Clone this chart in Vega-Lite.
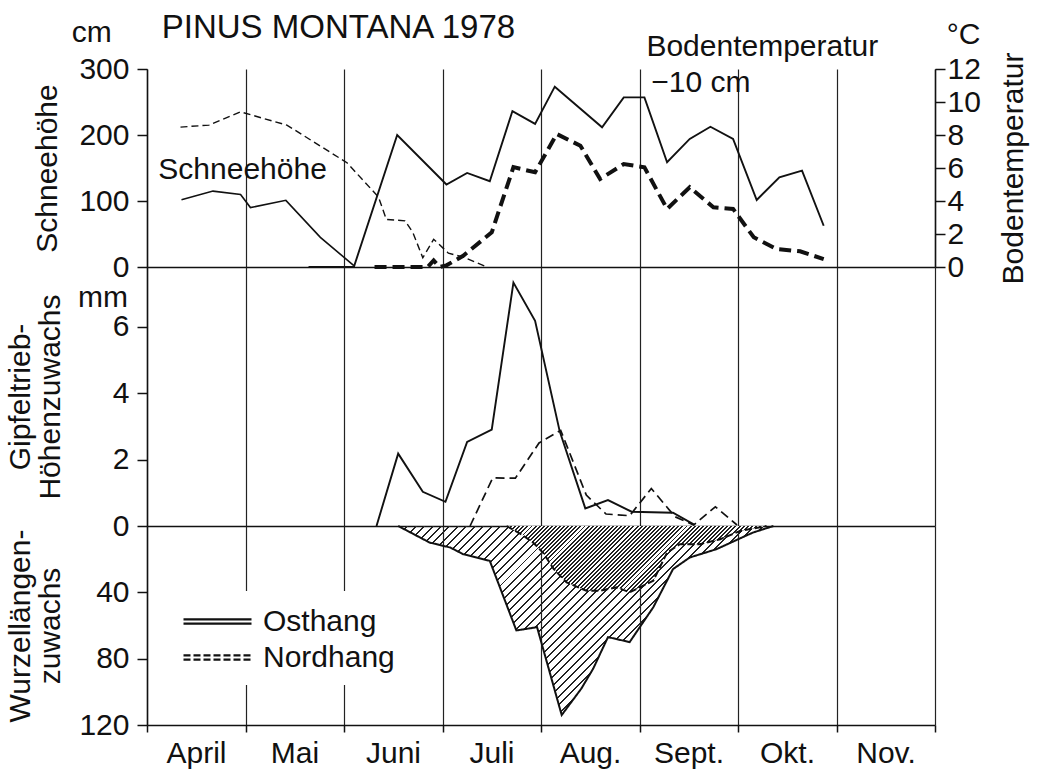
{
 "$schema":"https://vega.github.io/schema/vega-lite/v6.json",
 "background":"white",
 "padding":{"left":5,"top":12,"right":5,"bottom":2},
 "spacing":0,
 "bounds":"flush",
 "config":{
  "font":"Liberation Sans",
  "view":{"stroke":null},
  "axis":{"domainColor":"#111","tickColor":"#111","gridColor":"#222","gridWidth":1.2,"gridOpacity":1,"domainWidth":1.5,"tickWidth":1.5,"labelColor":"#111","titleColor":"#111","labelFont":"Liberation Sans","titleFont":"Liberation Sans","labelFontSize":30,"titleFontSize":30,"titleFontWeight":"normal","labelOverlap":false,"labelSeparation":0},
  "axisY":{"grid":false},
  "text":{"font":"Liberation Sans","fontSize":30,"color":"#111"},
  "line":{"color":"#111"}
 },
 "resolve":{"scale":{"strokeDash":"independent"},"legend":{"strokeDash":"independent"}},
 "datasets":{
  "schnee":[
   {"t":0.35,"Hang":"Osthang","cm":102},{"t":0.67,"Hang":"Osthang","cm":115},{"t":0.95,"Hang":"Osthang","cm":110},{"t":1.05,"Hang":"Osthang","cm":90},{"t":1.41,"Hang":"Osthang","cm":101},{"t":1.76,"Hang":"Osthang","cm":45},{"t":2.1,"Hang":"Osthang","cm":2},
   {"t":0.34,"Hang":"Nordhang","cm":212},{"t":0.63,"Hang":"Nordhang","cm":215},{"t":0.95,"Hang":"Nordhang","cm":235},{"t":1.42,"Hang":"Nordhang","cm":215},{"t":2.03,"Hang":"Nordhang","cm":158},{"t":2.35,"Hang":"Nordhang","cm":106},{"t":2.43,"Hang":"Nordhang","cm":72},{"t":2.62,"Hang":"Nordhang","cm":70},{"t":2.7,"Hang":"Nordhang","cm":52},{"t":2.8,"Hang":"Nordhang","cm":14},{"t":2.91,"Hang":"Nordhang","cm":42},{"t":3.06,"Hang":"Nordhang","cm":21},{"t":3.21,"Hang":"Nordhang","cm":15},{"t":3.45,"Hang":"Nordhang","cm":0}
  ],
  "temp":[
   {"t":1.64,"Hang":"Osthang","C":0},{"t":2.1,"Hang":"Osthang","C":0},{"t":2.54,"Hang":"Osthang","C":8.0},{"t":3.04,"Hang":"Osthang","C":5.0},{"t":3.25,"Hang":"Osthang","C":5.7},{"t":3.48,"Hang":"Osthang","C":5.2},{"t":3.71,"Hang":"Osthang","C":9.45},{"t":3.94,"Hang":"Osthang","C":8.67},{"t":4.14,"Hang":"Osthang","C":10.93},{"t":4.62,"Hang":"Osthang","C":8.47},{"t":4.84,"Hang":"Osthang","C":10.28},{"t":5.05,"Hang":"Osthang","C":10.28},{"t":5.28,"Hang":"Osthang","C":6.35},{"t":5.51,"Hang":"Osthang","C":7.76},{"t":5.72,"Hang":"Osthang","C":8.5},{"t":5.95,"Hang":"Osthang","C":7.76},{"t":6.19,"Hang":"Osthang","C":4.06},{"t":6.42,"Hang":"Osthang","C":5.44},{"t":6.65,"Hang":"Osthang","C":5.84},{"t":6.87,"Hang":"Osthang","C":2.5},
   {"t":2.31,"Hang":"Nordhang","C":0},{"t":2.85,"Hang":"Nordhang","C":0},{"t":2.91,"Hang":"Nordhang","C":0.4},{"t":2.97,"Hang":"Nordhang","C":0},{"t":3.04,"Hang":"Nordhang","C":0.1},{"t":3.21,"Hang":"Nordhang","C":0.68},{"t":3.5,"Hang":"Nordhang","C":2.1},{"t":3.72,"Hang":"Nordhang","C":6.05},{"t":3.94,"Hang":"Nordhang","C":5.74},{"t":4.16,"Hang":"Nordhang","C":8.06},{"t":4.4,"Hang":"Nordhang","C":7.35},{"t":4.6,"Hang":"Nordhang","C":5.33},{"t":4.84,"Hang":"Nordhang","C":6.24},{"t":5.05,"Hang":"Nordhang","C":6.04},{"t":5.28,"Hang":"Nordhang","C":3.52},{"t":5.51,"Hang":"Nordhang","C":4.83},{"t":5.75,"Hang":"Nordhang","C":3.62},{"t":5.95,"Hang":"Nordhang","C":3.52},{"t":6.16,"Hang":"Nordhang","C":1.8},{"t":6.39,"Hang":"Nordhang","C":1.09},{"t":6.63,"Hang":"Nordhang","C":0.95},{"t":6.87,"Hang":"Nordhang","C":0.48}
  ],
  "gipfel":[
   {"t":2.33,"Hang":"Osthang","mm":0},{"t":2.55,"Hang":"Osthang","mm":2.18},{"t":2.8,"Hang":"Osthang","mm":1.03},{"t":3.03,"Hang":"Osthang","mm":0.73},{"t":3.25,"Hang":"Osthang","mm":2.53},{"t":3.5,"Hang":"Osthang","mm":2.9},{"t":3.72,"Hang":"Osthang","mm":7.33},{"t":3.94,"Hang":"Osthang","mm":6.18},{"t":4.19,"Hang":"Osthang","mm":2.85},{"t":4.45,"Hang":"Osthang","mm":0.53},{"t":4.68,"Hang":"Osthang","mm":0.78},{"t":4.92,"Hang":"Osthang","mm":0.43},{"t":5.34,"Hang":"Osthang","mm":0.4},{"t":5.55,"Hang":"Osthang","mm":0.05},
   {"t":3.28,"Hang":"Nordhang","mm":0},{"t":3.51,"Hang":"Nordhang","mm":1.45},{"t":3.74,"Hang":"Nordhang","mm":1.44},{"t":3.98,"Hang":"Nordhang","mm":2.5},{"t":4.2,"Hang":"Nordhang","mm":2.88},{"t":4.46,"Hang":"Nordhang","mm":0.93},{"t":4.66,"Hang":"Nordhang","mm":0.36},{"t":4.9,"Hang":"Nordhang","mm":0.31},{"t":5.12,"Hang":"Nordhang","mm":1.13},{"t":5.36,"Hang":"Nordhang","mm":0.28},{"t":5.55,"Hang":"Nordhang","mm":0.03},{"t":5.77,"Hang":"Nordhang","mm":0.58},{"t":5.99,"Hang":"Nordhang","mm":0.03}
  ],
  "wurzel":[
   {"t":2.55,"Hang":"Osthang","mm":0},{"t":2.87,"Hang":"Osthang","mm":10},{"t":3.08,"Hang":"Osthang","mm":13},{"t":3.21,"Hang":"Osthang","mm":17},{"t":3.48,"Hang":"Osthang","mm":21},{"t":3.75,"Hang":"Osthang","mm":63},{"t":3.96,"Hang":"Osthang","mm":61},{"t":4.21,"Hang":"Osthang","mm":114},{"t":4.41,"Hang":"Osthang","mm":98},{"t":4.53,"Hang":"Osthang","mm":86},{"t":4.68,"Hang":"Osthang","mm":67},{"t":4.9,"Hang":"Osthang","mm":70},{"t":5.14,"Hang":"Osthang","mm":49},{"t":5.34,"Hang":"Osthang","mm":26},{"t":5.51,"Hang":"Osthang","mm":19},{"t":5.78,"Hang":"Osthang","mm":14},{"t":6.15,"Hang":"Osthang","mm":4},{"t":6.36,"Hang":"Osthang","mm":0},
   {"t":3.65,"Hang":"Nordhang","mm":0},{"t":3.8,"Hang":"Nordhang","mm":5},{"t":3.92,"Hang":"Nordhang","mm":10},{"t":4.02,"Hang":"Nordhang","mm":16},{"t":4.13,"Hang":"Nordhang","mm":26},{"t":4.26,"Hang":"Nordhang","mm":34},{"t":4.46,"Hang":"Nordhang","mm":39},{"t":4.6,"Hang":"Nordhang","mm":39},{"t":4.77,"Hang":"Nordhang","mm":37},{"t":4.9,"Hang":"Nordhang","mm":40},{"t":5.14,"Hang":"Nordhang","mm":33},{"t":5.28,"Hang":"Nordhang","mm":16},{"t":5.41,"Hang":"Nordhang","mm":11},{"t":5.61,"Hang":"Nordhang","mm":11},{"t":5.82,"Hang":"Nordhang","mm":8},{"t":6.02,"Hang":"Nordhang","mm":3},{"t":6.29,"Hang":"Nordhang","mm":0}
  ],
  "notes":[
   {"t":0.115,"cm":133.3,"label":"Schneehöhe"},
   {"t":5.07,"cm":319.2,"label":"Bodentemperatur"},
   {"t":5.12,"cm":264.7,"label":"−10 cm"},
   {"t":-0.765,"cm":340.5,"label":"cm"},
   {"t":8.12,"cm":337.9,"label":"°C"}
  ]
 },
 "vconcat":[
  {
   "width":788,"height":198,
   "resolve":{"scale":{"y":"independent"}},
   "layer":[
    {"layer":[
     {"data":{"name":"schnee"},"transform":[{"filter":"datum.Hang==='Osthang'"}],"mark":{"type":"line","strokeWidth":1.6,"color":"#111"},
      "encoding":{"x":{"field":"t","type":"quantitative","title":null,"scale":{"domain":[0,8],"nice":false},"axis":{"values":[0,1,2,3,4,5,6,7,8],"grid":true,"labels":false,"ticks":false,"domain":true,"title":null}},
       "y":{"field":"cm","type":"quantitative","title":"Schneehöhe","scale":{"domain":[0,300],"nice":false},"axis":{"values":[0,100,200,300],"title":"Schneehöhe","tickSize":10,"labelPadding":8,"titlePadding":16,"labelOverlap":false}}}},
     {"data":{"name":"schnee"},"transform":[{"filter":"datum.Hang==='Nordhang'"}],"mark":{"type":"line","strokeWidth":1.4,"strokeDash":[7,4],"color":"#111"},
      "encoding":{"x":{"field":"t","type":"quantitative","title":null},"y":{"field":"cm","type":"quantitative","title":"Schneehöhe","scale":{"domain":[0,300],"nice":false}}}},
     {"data":{"name":"notes"},"mark":{"type":"text","align":"left","baseline":"alphabetic"},
      "encoding":{"x":{"field":"t","type":"quantitative","title":null},"y":{"field":"cm","type":"quantitative","title":"Schneehöhe","scale":{"domain":[0,300],"nice":false}},"text":{"field":"label"}}},
     {"data":{"values":[{"t":0.15,"cm":346.5,"label":"PINUS MONTANA 1978"}]},"mark":{"type":"text","align":"left","baseline":"alphabetic","fontSize":33},
      "encoding":{"x":{"field":"t","type":"quantitative","title":null},"y":{"field":"cm","type":"quantitative","title":"Schneehöhe","scale":{"domain":[0,300],"nice":false}},"text":{"field":"label"}}}
    ]},
    {"layer":[
     {"data":{"name":"temp"},"transform":[{"filter":"datum.Hang==='Osthang'"}],"mark":{"type":"line","strokeWidth":1.9,"color":"#111"},
      "encoding":{"x":{"field":"t","type":"quantitative","title":null},"y":{"field":"C","type":"quantitative","title":"Bodentemperatur","scale":{"domain":[0,12],"nice":false},"axis":{"orient":"right","values":[0,2,4,6,8,10,12],"labelOverlap":false,"labelSeparation":0,"labelBound":false,"title":"Bodentemperatur","tickSize":10,"labelPadding":2,"titlePadding":18,"titleAngle":270,"titleBaseline":"top"}}}},
     {"data":{"name":"temp"},"transform":[{"filter":"datum.Hang==='Nordhang'"}],"mark":{"type":"line","strokeWidth":4,"strokeDash":[12,6],"color":"#111"},
      "encoding":{"x":{"field":"t","type":"quantitative","title":null},"y":{"field":"C","type":"quantitative","title":"Bodentemperatur","scale":{"domain":[0,12],"nice":false},"axis":{"orient":"right","values":[0,2,4,6,8,10,12],"labelOverlap":false,"labelSeparation":0,"labelBound":false,"title":"Bodentemperatur","tickSize":10,"labelPadding":2,"titlePadding":18,"titleAngle":270,"titleBaseline":"top"}}}}
    ]}
   ]
  },
  {
   "width":788,"height":259,
   "layer":[
    {"data":{"name":"gipfel"},"transform":[{"filter":"datum.Hang==='Osthang'"}],"mark":{"type":"line","strokeWidth":1.9,"color":"#111"},
     "encoding":{"x":{"field":"t","type":"quantitative","title":null,"scale":{"domain":[0,8],"nice":false},"axis":{"values":[0,1,2,3,4,5,6,7,8],"grid":true,"labels":false,"ticks":false,"domain":true,"title":null}},
      "y":{"field":"mm","type":"quantitative","title":["Gipfeltrieb-","Höhenzuwachs"],"scale":{"domain":[0,7.8],"nice":false},"axis":{"values":[0,2,4,6],"labelOverlap":false,"title":["Gipfeltrieb-","Höhenzuwachs"],"titleLineHeight":30,"tickSize":10,"labelPadding":8,"titlePadding":47}}}},
    {"data":{"name":"gipfel"},"transform":[{"filter":"datum.Hang==='Nordhang'"}],"mark":{"type":"line","strokeWidth":1.7,"strokeDash":[9,5],"color":"#111"},
     "encoding":{"x":{"field":"t","type":"quantitative","title":null},"y":{"field":"mm","type":"quantitative","title":["Gipfeltrieb-","Höhenzuwachs"],"scale":{"domain":[0,7.8],"nice":false}}}},
    {"data":{"values":[{"t":-0.7,"mm":6.6,"label":"mm"}]},"mark":{"type":"text","align":"left","baseline":"alphabetic"},
     "encoding":{"x":{"field":"t","type":"quantitative","title":null},"y":{"field":"mm","type":"quantitative","title":["Gipfeltrieb-","Höhenzuwachs"],"scale":{"domain":[0,7.8],"nice":false}},"text":{"field":"label"}}}
   ]
  },
  {
   "width":788,"height":199,
   "layer":[
    {"data":{"name":"wurzel"},"transform":[{"filter":"datum.Hang==='Osthang'"}],
     "mark":{"type":"area","stroke":null,"fill":{"gradient":"linear","x1":0,"y1":0,"x2":1.1994,"y2":0.6041,"stops":[
{"offset":0,"color":"#222"},{"offset":0.0035,"color":"#222"},{"offset":0.0035,"color":"#fff0"},{"offset":0.015,"color":"#fff0"},
{"offset":0.015,"color":"#222"},{"offset":0.0185,"color":"#222"},{"offset":0.0185,"color":"#fff0"},{"offset":0.03,"color":"#fff0"},
{"offset":0.03,"color":"#222"},{"offset":0.0335,"color":"#222"},{"offset":0.0335,"color":"#fff0"},{"offset":0.045,"color":"#fff0"},
{"offset":0.045,"color":"#222"},{"offset":0.0485,"color":"#222"},{"offset":0.0485,"color":"#fff0"},{"offset":0.06,"color":"#fff0"},
{"offset":0.06,"color":"#222"},{"offset":0.0635,"color":"#222"},{"offset":0.0635,"color":"#fff0"},{"offset":0.075,"color":"#fff0"},
{"offset":0.075,"color":"#222"},{"offset":0.0785,"color":"#222"},{"offset":0.0785,"color":"#fff0"},{"offset":0.09,"color":"#fff0"},
{"offset":0.09,"color":"#222"},{"offset":0.0935,"color":"#222"},{"offset":0.0935,"color":"#fff0"},{"offset":0.105,"color":"#fff0"},
{"offset":0.105,"color":"#222"},{"offset":0.1085,"color":"#222"},{"offset":0.1085,"color":"#fff0"},{"offset":0.12,"color":"#fff0"},
{"offset":0.12,"color":"#222"},{"offset":0.1235,"color":"#222"},{"offset":0.1235,"color":"#fff0"},{"offset":0.135,"color":"#fff0"},
{"offset":0.135,"color":"#222"},{"offset":0.1385,"color":"#222"},{"offset":0.1385,"color":"#fff0"},{"offset":0.15,"color":"#fff0"},
{"offset":0.15,"color":"#222"},{"offset":0.1535,"color":"#222"},{"offset":0.1535,"color":"#fff0"},{"offset":0.165,"color":"#fff0"},
{"offset":0.165,"color":"#222"},{"offset":0.1685,"color":"#222"},{"offset":0.1685,"color":"#fff0"},{"offset":0.18,"color":"#fff0"},
{"offset":0.18,"color":"#222"},{"offset":0.1835,"color":"#222"},{"offset":0.1835,"color":"#fff0"},{"offset":0.195,"color":"#fff0"},
{"offset":0.195,"color":"#222"},{"offset":0.1985,"color":"#222"},{"offset":0.1985,"color":"#fff0"},{"offset":0.21,"color":"#fff0"},
{"offset":0.21,"color":"#222"},{"offset":0.2135,"color":"#222"},{"offset":0.2135,"color":"#fff0"},{"offset":0.225,"color":"#fff0"},
{"offset":0.225,"color":"#222"},{"offset":0.2285,"color":"#222"},{"offset":0.2285,"color":"#fff0"},{"offset":0.24,"color":"#fff0"},
{"offset":0.24,"color":"#222"},{"offset":0.2435,"color":"#222"},{"offset":0.2435,"color":"#fff0"},{"offset":0.255,"color":"#fff0"},
{"offset":0.255,"color":"#222"},{"offset":0.2585,"color":"#222"},{"offset":0.2585,"color":"#fff0"},{"offset":0.27,"color":"#fff0"},
{"offset":0.27,"color":"#222"},{"offset":0.2735,"color":"#222"},{"offset":0.2735,"color":"#fff0"},{"offset":0.285,"color":"#fff0"},
{"offset":0.285,"color":"#222"},{"offset":0.2885,"color":"#222"},{"offset":0.2885,"color":"#fff0"},{"offset":0.3,"color":"#fff0"},
{"offset":0.3,"color":"#222"},{"offset":0.3035,"color":"#222"},{"offset":0.3035,"color":"#fff0"},{"offset":0.315,"color":"#fff0"},
{"offset":0.315,"color":"#222"},{"offset":0.3185,"color":"#222"},{"offset":0.3185,"color":"#fff0"},{"offset":0.33,"color":"#fff0"},
{"offset":0.33,"color":"#222"},{"offset":0.3335,"color":"#222"},{"offset":0.3335,"color":"#fff0"},{"offset":0.345,"color":"#fff0"},
{"offset":0.345,"color":"#222"},{"offset":0.3485,"color":"#222"},{"offset":0.3485,"color":"#fff0"},{"offset":0.36,"color":"#fff0"},
{"offset":0.36,"color":"#222"},{"offset":0.3635,"color":"#222"},{"offset":0.3635,"color":"#fff0"},{"offset":0.375,"color":"#fff0"},
{"offset":0.375,"color":"#222"},{"offset":0.3785,"color":"#222"},{"offset":0.3785,"color":"#fff0"},{"offset":0.39,"color":"#fff0"},
{"offset":0.39,"color":"#222"},{"offset":0.3935,"color":"#222"},{"offset":0.3935,"color":"#fff0"},{"offset":0.405,"color":"#fff0"},
{"offset":0.405,"color":"#222"},{"offset":0.4085,"color":"#222"},{"offset":0.4085,"color":"#fff0"},{"offset":0.42,"color":"#fff0"},
{"offset":0.42,"color":"#222"},{"offset":0.4235,"color":"#222"},{"offset":0.4235,"color":"#fff0"},{"offset":0.435,"color":"#fff0"},
{"offset":0.435,"color":"#222"},{"offset":0.4385,"color":"#222"},{"offset":0.4385,"color":"#fff0"},{"offset":0.45,"color":"#fff0"},
{"offset":0.45,"color":"#222"},{"offset":0.4535,"color":"#222"},{"offset":0.4535,"color":"#fff0"},{"offset":0.465,"color":"#fff0"},
{"offset":0.465,"color":"#222"},{"offset":0.4685,"color":"#222"},{"offset":0.4685,"color":"#fff0"},{"offset":0.48,"color":"#fff0"},
{"offset":0.48,"color":"#222"},{"offset":0.4835,"color":"#222"},{"offset":0.4835,"color":"#fff0"},{"offset":0.495,"color":"#fff0"},
{"offset":0.495,"color":"#222"},{"offset":0.4985,"color":"#222"},{"offset":0.4985,"color":"#fff0"},{"offset":0.51,"color":"#fff0"},
{"offset":0.51,"color":"#222"},{"offset":0.5135,"color":"#222"},{"offset":0.5135,"color":"#fff0"},{"offset":0.525,"color":"#fff0"},
{"offset":0.525,"color":"#222"},{"offset":0.5285,"color":"#222"},{"offset":0.5285,"color":"#fff0"},{"offset":0.54,"color":"#fff0"},
{"offset":0.54,"color":"#222"},{"offset":0.5435,"color":"#222"},{"offset":0.5435,"color":"#fff0"},{"offset":0.555,"color":"#fff0"},
{"offset":0.555,"color":"#222"},{"offset":0.5585,"color":"#222"},{"offset":0.5585,"color":"#fff0"},{"offset":0.57,"color":"#fff0"},
{"offset":0.57,"color":"#222"},{"offset":0.5735,"color":"#222"},{"offset":0.5735,"color":"#fff0"},{"offset":0.585,"color":"#fff0"},
{"offset":0.585,"color":"#222"},{"offset":0.5885,"color":"#222"},{"offset":0.5885,"color":"#fff0"},{"offset":0.6,"color":"#fff0"},
{"offset":0.6,"color":"#222"},{"offset":0.6035,"color":"#222"},{"offset":0.6035,"color":"#fff0"},{"offset":0.615,"color":"#fff0"},
{"offset":0.615,"color":"#222"},{"offset":0.6185,"color":"#222"},{"offset":0.6185,"color":"#fff0"},{"offset":0.63,"color":"#fff0"},
{"offset":0.63,"color":"#222"},{"offset":0.6335,"color":"#222"},{"offset":0.6335,"color":"#fff0"},{"offset":0.645,"color":"#fff0"},
{"offset":0.645,"color":"#222"},{"offset":0.6485,"color":"#222"},{"offset":0.6485,"color":"#fff0"},{"offset":0.66,"color":"#fff0"},
{"offset":0.66,"color":"#222"},{"offset":0.6635,"color":"#222"},{"offset":0.6635,"color":"#fff0"},{"offset":0.675,"color":"#fff0"},
{"offset":0.675,"color":"#222"},{"offset":0.6785,"color":"#222"},{"offset":0.6785,"color":"#fff0"},{"offset":0.69,"color":"#fff0"},
{"offset":0.69,"color":"#222"},{"offset":0.6935,"color":"#222"},{"offset":0.6935,"color":"#fff0"},{"offset":0.705,"color":"#fff0"},
{"offset":0.705,"color":"#222"},{"offset":0.7085,"color":"#222"},{"offset":0.7085,"color":"#fff0"},{"offset":0.72,"color":"#fff0"},
{"offset":0.72,"color":"#222"},{"offset":0.7235,"color":"#222"},{"offset":0.7235,"color":"#fff0"},{"offset":0.735,"color":"#fff0"},
{"offset":0.735,"color":"#222"},{"offset":0.7385,"color":"#222"},{"offset":0.7385,"color":"#fff0"},{"offset":0.75,"color":"#fff0"},
{"offset":0.75,"color":"#222"},{"offset":0.7535,"color":"#222"},{"offset":0.7535,"color":"#fff0"},{"offset":0.765,"color":"#fff0"},
{"offset":0.765,"color":"#222"},{"offset":0.7685,"color":"#222"},{"offset":0.7685,"color":"#fff0"},{"offset":0.78,"color":"#fff0"},
{"offset":0.78,"color":"#222"},{"offset":0.7835,"color":"#222"},{"offset":0.7835,"color":"#fff0"},{"offset":0.795,"color":"#fff0"},
{"offset":0.795,"color":"#222"},{"offset":0.7985,"color":"#222"},{"offset":0.7985,"color":"#fff0"},{"offset":0.81,"color":"#fff0"},
{"offset":0.81,"color":"#222"},{"offset":0.8135,"color":"#222"},{"offset":0.8135,"color":"#fff0"},{"offset":0.825,"color":"#fff0"},
{"offset":0.825,"color":"#222"},{"offset":0.8285,"color":"#222"},{"offset":0.8285,"color":"#fff0"},{"offset":0.84,"color":"#fff0"},
{"offset":0.84,"color":"#222"},{"offset":0.8435,"color":"#222"},{"offset":0.8435,"color":"#fff0"},{"offset":0.855,"color":"#fff0"},
{"offset":0.855,"color":"#222"},{"offset":0.8585,"color":"#222"},{"offset":0.8585,"color":"#fff0"},{"offset":0.87,"color":"#fff0"},
{"offset":0.87,"color":"#222"},{"offset":0.8735,"color":"#222"},{"offset":0.8735,"color":"#fff0"},{"offset":0.885,"color":"#fff0"},
{"offset":0.885,"color":"#222"},{"offset":0.8885,"color":"#222"},{"offset":0.8885,"color":"#fff0"},{"offset":0.9,"color":"#fff0"},
{"offset":0.9,"color":"#222"},{"offset":0.9035,"color":"#222"},{"offset":0.9035,"color":"#fff0"},{"offset":0.915,"color":"#fff0"},
{"offset":0.915,"color":"#222"},{"offset":0.9185,"color":"#222"},{"offset":0.9185,"color":"#fff0"},{"offset":0.93,"color":"#fff0"},
{"offset":0.93,"color":"#222"},{"offset":0.9335,"color":"#222"},{"offset":0.9335,"color":"#fff0"},{"offset":0.945,"color":"#fff0"},
{"offset":0.945,"color":"#222"},{"offset":0.9485,"color":"#222"},{"offset":0.9485,"color":"#fff0"},{"offset":0.96,"color":"#fff0"},
{"offset":0.96,"color":"#222"},{"offset":0.9635,"color":"#222"},{"offset":0.9635,"color":"#fff0"},{"offset":0.975,"color":"#fff0"},
{"offset":0.975,"color":"#222"},{"offset":0.9785,"color":"#222"},{"offset":0.9785,"color":"#fff0"},{"offset":0.99,"color":"#fff0"},
{"offset":0.99,"color":"#222"},{"offset":0.9935,"color":"#222"},{"offset":0.9935,"color":"#fff0"},{"offset":1,"color":"#fff0"}
     ]}},
     "encoding":{"x":{"field":"t","type":"quantitative","title":null,"scale":{"domain":[0,8],"nice":false},"axis":{"values":[0,1,2,3,4,5,6,7,8],"grid":true,"ticks":true,"tickSize":7,"labelOffset":49,"labelPadding":6,"labelFlush":false,"labelOverlap":false,"labelBound":false,"labelExpr":"['April','Mai','Juni','Juli','Aug.','Sept.','Okt.','Nov.',''][datum.value]","domain":true,"title":null}},
      "y":{"field":"mm","type":"quantitative","title":["Wurzellängen-","zuwachs"],"scale":{"domain":[0,120],"reverse":true,"nice":false},"axis":{"values":[40,80,120],"labelOverlap":false,"title":["Wurzellängen-","zuwachs"],"titleLineHeight":30,"tickSize":10,"labelPadding":8,"titlePadding":13}}}},
    {"data":{"name":"wurzel"},"transform":[{"filter":"datum.Hang==='Nordhang'"}],
     "mark":{"type":"area","stroke":null,"fill":{"gradient":"linear","x1":0,"y1":0,"x2":1.1784,"y2":0.3006,"stops":[
{"offset":0,"color":"#222"},{"offset":0.006,"color":"#222"},{"offset":0.006,"color":"#fff"},{"offset":0.0125,"color":"#fff"},
{"offset":0.0125,"color":"#222"},{"offset":0.0185,"color":"#222"},{"offset":0.0185,"color":"#fff"},{"offset":0.025,"color":"#fff"},
{"offset":0.025,"color":"#222"},{"offset":0.031,"color":"#222"},{"offset":0.031,"color":"#fff"},{"offset":0.0375,"color":"#fff"},
{"offset":0.0375,"color":"#222"},{"offset":0.0435,"color":"#222"},{"offset":0.0435,"color":"#fff"},{"offset":0.05,"color":"#fff"},
{"offset":0.05,"color":"#222"},{"offset":0.056,"color":"#222"},{"offset":0.056,"color":"#fff"},{"offset":0.0625,"color":"#fff"},
{"offset":0.0625,"color":"#222"},{"offset":0.0685,"color":"#222"},{"offset":0.0685,"color":"#fff"},{"offset":0.075,"color":"#fff"},
{"offset":0.075,"color":"#222"},{"offset":0.081,"color":"#222"},{"offset":0.081,"color":"#fff"},{"offset":0.0875,"color":"#fff"},
{"offset":0.0875,"color":"#222"},{"offset":0.0935,"color":"#222"},{"offset":0.0935,"color":"#fff"},{"offset":0.1,"color":"#fff"},
{"offset":0.1,"color":"#222"},{"offset":0.106,"color":"#222"},{"offset":0.106,"color":"#fff"},{"offset":0.1125,"color":"#fff"},
{"offset":0.1125,"color":"#222"},{"offset":0.1185,"color":"#222"},{"offset":0.1185,"color":"#fff"},{"offset":0.125,"color":"#fff"},
{"offset":0.125,"color":"#222"},{"offset":0.131,"color":"#222"},{"offset":0.131,"color":"#fff"},{"offset":0.1375,"color":"#fff"},
{"offset":0.1375,"color":"#222"},{"offset":0.1435,"color":"#222"},{"offset":0.1435,"color":"#fff"},{"offset":0.15,"color":"#fff"},
{"offset":0.15,"color":"#222"},{"offset":0.156,"color":"#222"},{"offset":0.156,"color":"#fff"},{"offset":0.1625,"color":"#fff"},
{"offset":0.1625,"color":"#222"},{"offset":0.1685,"color":"#222"},{"offset":0.1685,"color":"#fff"},{"offset":0.175,"color":"#fff"},
{"offset":0.175,"color":"#222"},{"offset":0.181,"color":"#222"},{"offset":0.181,"color":"#fff"},{"offset":0.1875,"color":"#fff"},
{"offset":0.1875,"color":"#222"},{"offset":0.1935,"color":"#222"},{"offset":0.1935,"color":"#fff"},{"offset":0.2,"color":"#fff"},
{"offset":0.2,"color":"#222"},{"offset":0.206,"color":"#222"},{"offset":0.206,"color":"#fff"},{"offset":0.2125,"color":"#fff"},
{"offset":0.2125,"color":"#222"},{"offset":0.2185,"color":"#222"},{"offset":0.2185,"color":"#fff"},{"offset":0.225,"color":"#fff"},
{"offset":0.225,"color":"#222"},{"offset":0.231,"color":"#222"},{"offset":0.231,"color":"#fff"},{"offset":0.2375,"color":"#fff"},
{"offset":0.2375,"color":"#222"},{"offset":0.2435,"color":"#222"},{"offset":0.2435,"color":"#fff"},{"offset":0.25,"color":"#fff"},
{"offset":0.25,"color":"#222"},{"offset":0.256,"color":"#222"},{"offset":0.256,"color":"#fff"},{"offset":0.2625,"color":"#fff"},
{"offset":0.2625,"color":"#222"},{"offset":0.2685,"color":"#222"},{"offset":0.2685,"color":"#fff"},{"offset":0.275,"color":"#fff"},
{"offset":0.275,"color":"#222"},{"offset":0.281,"color":"#222"},{"offset":0.281,"color":"#fff"},{"offset":0.2875,"color":"#fff"},
{"offset":0.2875,"color":"#222"},{"offset":0.2935,"color":"#222"},{"offset":0.2935,"color":"#fff"},{"offset":0.3,"color":"#fff"},
{"offset":0.3,"color":"#222"},{"offset":0.306,"color":"#222"},{"offset":0.306,"color":"#fff"},{"offset":0.3125,"color":"#fff"},
{"offset":0.3125,"color":"#222"},{"offset":0.3185,"color":"#222"},{"offset":0.3185,"color":"#fff"},{"offset":0.325,"color":"#fff"},
{"offset":0.325,"color":"#222"},{"offset":0.331,"color":"#222"},{"offset":0.331,"color":"#fff"},{"offset":0.3375,"color":"#fff"},
{"offset":0.3375,"color":"#222"},{"offset":0.3435,"color":"#222"},{"offset":0.3435,"color":"#fff"},{"offset":0.35,"color":"#fff"},
{"offset":0.35,"color":"#222"},{"offset":0.356,"color":"#222"},{"offset":0.356,"color":"#fff"},{"offset":0.3625,"color":"#fff"},
{"offset":0.3625,"color":"#222"},{"offset":0.3685,"color":"#222"},{"offset":0.3685,"color":"#fff"},{"offset":0.375,"color":"#fff"},
{"offset":0.375,"color":"#222"},{"offset":0.381,"color":"#222"},{"offset":0.381,"color":"#fff"},{"offset":0.3875,"color":"#fff"},
{"offset":0.3875,"color":"#222"},{"offset":0.3935,"color":"#222"},{"offset":0.3935,"color":"#fff"},{"offset":0.4,"color":"#fff"},
{"offset":0.4,"color":"#222"},{"offset":0.406,"color":"#222"},{"offset":0.406,"color":"#fff"},{"offset":0.4125,"color":"#fff"},
{"offset":0.4125,"color":"#222"},{"offset":0.4185,"color":"#222"},{"offset":0.4185,"color":"#fff"},{"offset":0.425,"color":"#fff"},
{"offset":0.425,"color":"#222"},{"offset":0.431,"color":"#222"},{"offset":0.431,"color":"#fff"},{"offset":0.4375,"color":"#fff"},
{"offset":0.4375,"color":"#222"},{"offset":0.4435,"color":"#222"},{"offset":0.4435,"color":"#fff"},{"offset":0.45,"color":"#fff"},
{"offset":0.45,"color":"#222"},{"offset":0.456,"color":"#222"},{"offset":0.456,"color":"#fff"},{"offset":0.4625,"color":"#fff"},
{"offset":0.4625,"color":"#222"},{"offset":0.4685,"color":"#222"},{"offset":0.4685,"color":"#fff"},{"offset":0.475,"color":"#fff"},
{"offset":0.475,"color":"#222"},{"offset":0.481,"color":"#222"},{"offset":0.481,"color":"#fff"},{"offset":0.4875,"color":"#fff"},
{"offset":0.4875,"color":"#222"},{"offset":0.4935,"color":"#222"},{"offset":0.4935,"color":"#fff"},{"offset":0.5,"color":"#fff"},
{"offset":0.5,"color":"#222"},{"offset":0.506,"color":"#222"},{"offset":0.506,"color":"#fff"},{"offset":0.5125,"color":"#fff"},
{"offset":0.5125,"color":"#222"},{"offset":0.5185,"color":"#222"},{"offset":0.5185,"color":"#fff"},{"offset":0.525,"color":"#fff"},
{"offset":0.525,"color":"#222"},{"offset":0.531,"color":"#222"},{"offset":0.531,"color":"#fff"},{"offset":0.5375,"color":"#fff"},
{"offset":0.5375,"color":"#222"},{"offset":0.5435,"color":"#222"},{"offset":0.5435,"color":"#fff"},{"offset":0.55,"color":"#fff"},
{"offset":0.55,"color":"#222"},{"offset":0.556,"color":"#222"},{"offset":0.556,"color":"#fff"},{"offset":0.5625,"color":"#fff"},
{"offset":0.5625,"color":"#222"},{"offset":0.5685,"color":"#222"},{"offset":0.5685,"color":"#fff"},{"offset":0.575,"color":"#fff"},
{"offset":0.575,"color":"#222"},{"offset":0.581,"color":"#222"},{"offset":0.581,"color":"#fff"},{"offset":0.5875,"color":"#fff"},
{"offset":0.5875,"color":"#222"},{"offset":0.5935,"color":"#222"},{"offset":0.5935,"color":"#fff"},{"offset":0.6,"color":"#fff"},
{"offset":0.6,"color":"#222"},{"offset":0.606,"color":"#222"},{"offset":0.606,"color":"#fff"},{"offset":0.6125,"color":"#fff"},
{"offset":0.6125,"color":"#222"},{"offset":0.6185,"color":"#222"},{"offset":0.6185,"color":"#fff"},{"offset":0.625,"color":"#fff"},
{"offset":0.625,"color":"#222"},{"offset":0.631,"color":"#222"},{"offset":0.631,"color":"#fff"},{"offset":0.6375,"color":"#fff"},
{"offset":0.6375,"color":"#222"},{"offset":0.6435,"color":"#222"},{"offset":0.6435,"color":"#fff"},{"offset":0.65,"color":"#fff"},
{"offset":0.65,"color":"#222"},{"offset":0.656,"color":"#222"},{"offset":0.656,"color":"#fff"},{"offset":0.6625,"color":"#fff"},
{"offset":0.6625,"color":"#222"},{"offset":0.6685,"color":"#222"},{"offset":0.6685,"color":"#fff"},{"offset":0.675,"color":"#fff"},
{"offset":0.675,"color":"#222"},{"offset":0.681,"color":"#222"},{"offset":0.681,"color":"#fff"},{"offset":0.6875,"color":"#fff"},
{"offset":0.6875,"color":"#222"},{"offset":0.6935,"color":"#222"},{"offset":0.6935,"color":"#fff"},{"offset":0.7,"color":"#fff"},
{"offset":0.7,"color":"#222"},{"offset":0.706,"color":"#222"},{"offset":0.706,"color":"#fff"},{"offset":0.7125,"color":"#fff"},
{"offset":0.7125,"color":"#222"},{"offset":0.7185,"color":"#222"},{"offset":0.7185,"color":"#fff"},{"offset":0.725,"color":"#fff"},
{"offset":0.725,"color":"#222"},{"offset":0.731,"color":"#222"},{"offset":0.731,"color":"#fff"},{"offset":0.7375,"color":"#fff"},
{"offset":0.7375,"color":"#222"},{"offset":0.7435,"color":"#222"},{"offset":0.7435,"color":"#fff"},{"offset":0.75,"color":"#fff"},
{"offset":0.75,"color":"#222"},{"offset":0.756,"color":"#222"},{"offset":0.756,"color":"#fff"},{"offset":0.7625,"color":"#fff"},
{"offset":0.7625,"color":"#222"},{"offset":0.7685,"color":"#222"},{"offset":0.7685,"color":"#fff"},{"offset":0.775,"color":"#fff"},
{"offset":0.775,"color":"#222"},{"offset":0.781,"color":"#222"},{"offset":0.781,"color":"#fff"},{"offset":0.7875,"color":"#fff"},
{"offset":0.7875,"color":"#222"},{"offset":0.7935,"color":"#222"},{"offset":0.7935,"color":"#fff"},{"offset":0.8,"color":"#fff"},
{"offset":0.8,"color":"#222"},{"offset":0.806,"color":"#222"},{"offset":0.806,"color":"#fff"},{"offset":0.8125,"color":"#fff"},
{"offset":0.8125,"color":"#222"},{"offset":0.8185,"color":"#222"},{"offset":0.8185,"color":"#fff"},{"offset":0.825,"color":"#fff"},
{"offset":0.825,"color":"#222"},{"offset":0.831,"color":"#222"},{"offset":0.831,"color":"#fff"},{"offset":0.8375,"color":"#fff"},
{"offset":0.8375,"color":"#222"},{"offset":0.8435,"color":"#222"},{"offset":0.8435,"color":"#fff"},{"offset":0.85,"color":"#fff"},
{"offset":0.85,"color":"#222"},{"offset":0.856,"color":"#222"},{"offset":0.856,"color":"#fff"},{"offset":0.8625,"color":"#fff"},
{"offset":0.8625,"color":"#222"},{"offset":0.8685,"color":"#222"},{"offset":0.8685,"color":"#fff"},{"offset":0.875,"color":"#fff"},
{"offset":0.875,"color":"#222"},{"offset":0.881,"color":"#222"},{"offset":0.881,"color":"#fff"},{"offset":0.8875,"color":"#fff"},
{"offset":0.8875,"color":"#222"},{"offset":0.8935,"color":"#222"},{"offset":0.8935,"color":"#fff"},{"offset":0.9,"color":"#fff"},
{"offset":0.9,"color":"#222"},{"offset":0.906,"color":"#222"},{"offset":0.906,"color":"#fff"},{"offset":0.9125,"color":"#fff"},
{"offset":0.9125,"color":"#222"},{"offset":0.9185,"color":"#222"},{"offset":0.9185,"color":"#fff"},{"offset":0.925,"color":"#fff"},
{"offset":0.925,"color":"#222"},{"offset":0.931,"color":"#222"},{"offset":0.931,"color":"#fff"},{"offset":0.9375,"color":"#fff"},
{"offset":0.9375,"color":"#222"},{"offset":0.9435,"color":"#222"},{"offset":0.9435,"color":"#fff"},{"offset":0.95,"color":"#fff"},
{"offset":0.95,"color":"#222"},{"offset":0.956,"color":"#222"},{"offset":0.956,"color":"#fff"},{"offset":0.9625,"color":"#fff"},
{"offset":0.9625,"color":"#222"},{"offset":0.9685,"color":"#222"},{"offset":0.9685,"color":"#fff"},{"offset":0.975,"color":"#fff"},
{"offset":0.975,"color":"#222"},{"offset":0.981,"color":"#222"},{"offset":0.981,"color":"#fff"},{"offset":0.9875,"color":"#fff"},
{"offset":0.9875,"color":"#222"},{"offset":0.9935,"color":"#222"},{"offset":0.9935,"color":"#fff"},{"offset":1,"color":"#fff"}
     ]}},
     "encoding":{"x":{"field":"t","type":"quantitative","title":null},"y":{"field":"mm","type":"quantitative","title":["Wurzellängen-","zuwachs"],"scale":{"domain":[0,120],"reverse":true,"nice":false}}}},
    {"data":{"name":"wurzel"},"mark":{"type":"line","strokeWidth":2,"color":"#111"},
     "encoding":{"x":{"field":"t","type":"quantitative","title":null},"y":{"field":"mm","type":"quantitative","title":["Wurzellängen-","zuwachs"],"scale":{"domain":[0,120],"reverse":true,"nice":false}},
      "strokeDash":{"field":"Hang","type":"nominal","scale":{"domain":["Osthang","Nordhang"],"range":[[1,0],[7,3]]},
       "legend":{"title":null,"orient":"none","legendX":40,"legendY":65,"padding":12,"fillColor":"white","strokeColor":null,"direction":"vertical","symbolType":"M-2,-0.13L2,-0.13M-2,0.13L2,0.13","symbolSize":1156,"symbolStrokeWidth":2.2,"symbolStrokeColor":"#111","labelFontSize":30,"labelColor":"#111","labelFont":"Liberation Sans","labelOffset":27,"rowPadding":2}}}}
   ]
  }
 ]
}
